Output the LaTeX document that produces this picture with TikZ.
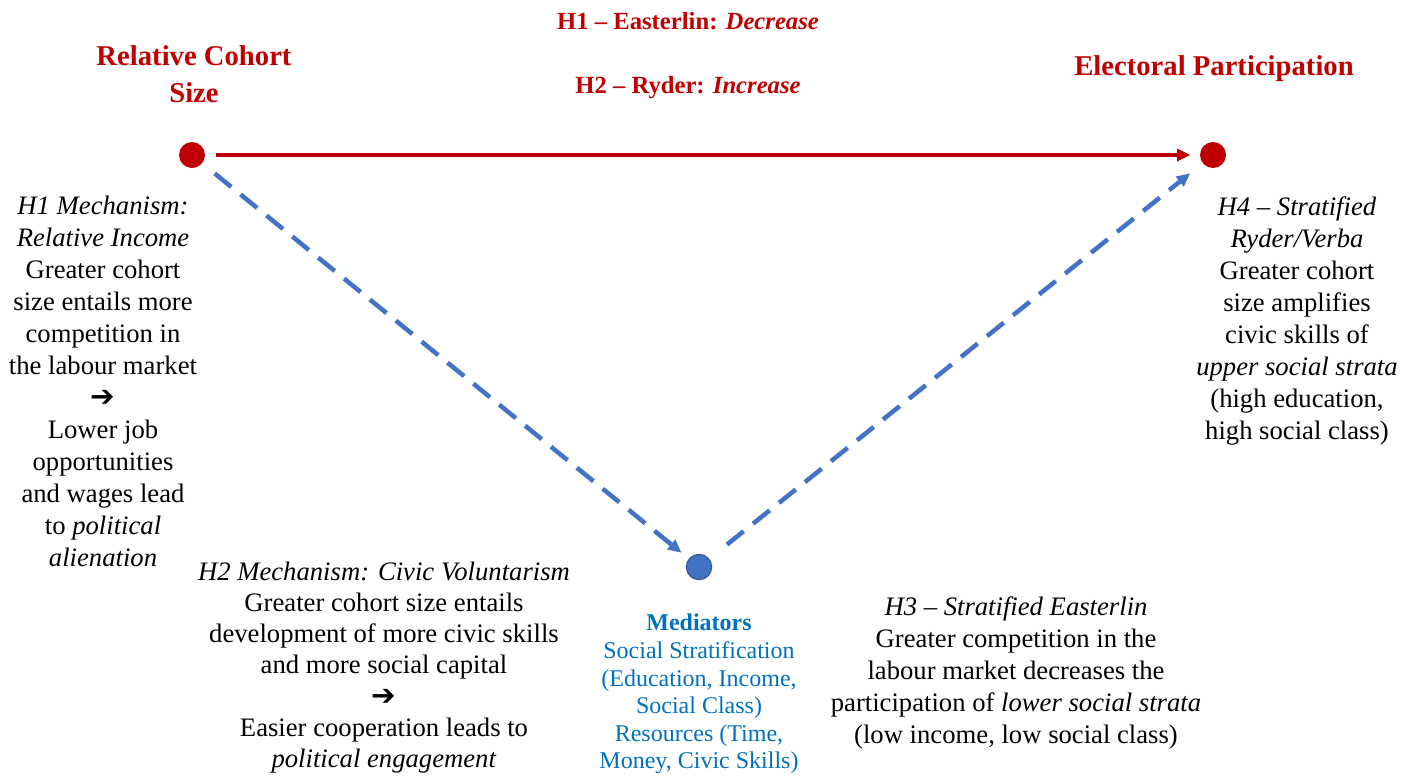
\documentclass[tikz,border=0pt]{standalone}
\usepackage{fontspec}
\setmainfont{Liberation Serif}
\newfontfamily\arrowfont{DejaVu Sans}
\usetikzlibrary{arrows.meta}
\usepackage{xcolor}
\definecolor{darkred}{HTML}{C00000}
\definecolor{dashblue}{HTML}{4472C4}
\definecolor{dotrim}{HTML}{2F528F}
\definecolor{medblue}{HTML}{0070C0}
\newcommand{\thento}{{\arrowfont\fontsize{22}{20}\selectfont ➔}}

\begin{document}
\begin{tikzpicture}[x=0.75pt,y=-0.75pt,>={Triangle[length=10pt,width=9pt]},line cap=butt,
  reddot/.style={circle,fill=darkred,inner sep=0pt,minimum size=19.5pt},
  bluedot/.style={circle,fill=dashblue,draw=dotrim,line width=0.8pt,inner sep=0pt,minimum size=19pt},
  heading/.style={font=\fontsize{21.5}{27.8}\selectfont\bfseries,text=darkred,align=center,inner sep=0pt,anchor=north},
  hyp/.style={font=\fontsize{18.5}{22}\selectfont\bfseries,text=darkred,inner sep=0pt,anchor=north},
  body/.style={font=\fontsize{20}{24}\selectfont,align=center,inner sep=0pt,anchor=north},
  medtext/.style={font=\fontsize{18}{20.7}\selectfont,text=medblue,align=center,inner sep=0pt,anchor=north},
  redline/.style={darkred,line width=3pt,shorten <=8pt,shorten >=7pt},
  blueline/.style={dashblue,line width=3.4pt,dash pattern=on 16pt off 9pt}]
\useasboundingbox (0,0) rectangle (1404,776);

\node[reddot] (rcs) at (192,155) {};
\node[reddot] (ep) at (1213,155) {};
\node[bluedot] (med) at (699,567) {};

\node[heading] (rcslabel) at (194,45) {Relative Cohort\\Size};
\node[heading] (eplabel) at (1214,55) {Electoral Participation};
\node[hyp] (hone) at (688,12) {H1 -- Easterlin: \textit{Decrease}};
\node[hyp] (htwo) at (688,76) {H2 -- Ryder: \textit{Increase}};

\draw[redline,->] (rcs) -- (ep);
\draw[blueline,->,shorten <=12pt,shorten >=7pt] (rcs) -- (med);
\draw[blueline,->,shorten <=17pt,shorten >=12pt] (med) -- (ep);

\node[body] (honemech) at (103,196) {\textit{H1 Mechanism:}\\\textit{Relative Income}\\Greater cohort\\size entails more\\competition in\\the labour market\\\thento\\Lower job\\opportunities\\and wages lead\\to \textit{political}\\\textit{alienation}};
\node[body] (hfour) at (1297,196) {\textit{H4 -- Stratified}\\\textit{Ryder/Verba}\\Greater cohort\\size amplifies\\civic skills of\\\textit{upper social strata}\\(high education,\\high social class)};
\node[body,font=\fontsize{20}{23.3}\selectfont] (htwomech) at (384,562) {\textit{H2 Mechanism: Civic Voluntarism}\\Greater cohort size entails\\development of more civic skills\\and more social capital\\\thento\\Easier cooperation leads to\\\textit{political engagement}};
\node[body] (hthree) at (1016,596) {\textit{H3 -- Stratified Easterlin}\\Greater competition in the\\labour market decreases the\\participation of \textit{lower social strata}\\(low income, low social class)};
\node[medtext] (medlabel) at (699,614) {\textbf{Mediators}\\Social Stratification\\(Education, Income,\\Social Class)\\Resources (Time,\\Money, Civic Skills)};
\end{tikzpicture}
\end{document}
